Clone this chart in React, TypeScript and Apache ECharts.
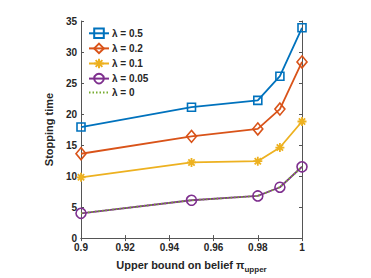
import React, { useEffect, useRef } from "react";
import * as echarts from "echarts";

const xValues = [0.9, 0.95, 0.98, 0.99, 1.0];
const lambda05 = [17.9, 21.1, 22.2, 26.1, 33.9];
const lambda02 = [13.6, 16.4, 17.6, 20.8, 28.4];
const lambda01 = [9.8, 12.2, 12.4, 14.6, 18.8];
const lambda005 = [4.0, 6.1, 6.8, 8.2, 11.5];
const lambda0 = [4.0, 6.1, 6.8, 8.2, 11.5];
const seriesNames = ["λ = 0.5", "λ = 0.2", "λ = 0.1", "λ = 0.05", "λ = 0"];

const colors = ["#0072BD", "#D95319", "#EDB120", "#7E2F8E", "#77AC30"];
const asterisk = "path://M0,-1L0,1M-1,0L1,0M-0.7,-0.7L0.7,0.7M-0.7,0.7L0.7,-0.7";
const textColor = "#262626";
const axisColor = "#555";

function pairs(ys: number[]) {
  return xValues.map((x, i) => [x, ys[i]]);
}

export default function App() {
  const ref = useRef<HTMLDivElement>(null);
  useEffect(() => {
    if (!ref.current) return;
    const chart = echarts.init(ref.current, null, { renderer: "svg" });
    const lineW = 1.8;
    const mk = (name: string, data: number[], color: string, symbol: string, size: any, extra: any = {}) => ({
      type: "line",
      name,
      data: pairs(data),
      symbol,
      symbolSize: size,
      showAllSymbol: true,
      lineStyle: { color, width: lineW },
      itemStyle: { color: "none", borderColor: color, borderWidth: 1.6 },
      emphasis: { disabled: true },
      ...extra,
    });
    chart.setOption({
      animation: false,
      grid: { left: 81, right: 69, top: 21, bottom: 38 },
      legend: {
        orient: "vertical",
        left: 88,
        top: 26,
        padding: 0,
        itemGap: 0.5,
        itemWidth: 20,
        itemHeight: 12,
        data: seriesNames.map((n, i) =>
          i === 4
            ? { name: n, itemStyle: { color: "rgba(0,0,0,0)", borderColor: "rgba(0,0,0,0)", borderWidth: 0 } }
            : { name: n }
        ),
        textStyle: { fontFamily: "Liberation Sans", fontWeight: "bold", fontSize: 10, color: textColor, lineHeight: 12, padding: [0, 0, 0, -2] },
      },
      xAxis: [
        {
          type: "value",
          min: 0.9,
          max: 1.0,
          interval: 0.02,
          name: "{a|Upper bound on belief π}{sub|upper}",
          nameLocation: "middle",
          nameGap: 15,
          nameTextStyle: {
            rich: {
              a: { fontFamily: "Liberation Sans", fontWeight: "bold", fontSize: 11, color: textColor, lineHeight: 14, verticalAlign: "top" },
              sub: { fontFamily: "Liberation Sans", fontWeight: "bold", fontSize: 8, color: textColor, lineHeight: 10, verticalAlign: "bottom", padding: [8, 0, 0, 0] },
            },
          },
          axisLine: { show: true, lineStyle: { color: axisColor, width: 1 } },
          axisTick: { show: true, inside: true, length: 3, lineStyle: { color: axisColor } },
          splitLine: { show: false },
          axisLabel: {
            fontFamily: "Liberation Sans",
            fontWeight: "bold",
            fontSize: 10,
            color: textColor,
            margin: 4,
            formatter: (v: number) => String(+v.toFixed(2)),
          },
        },
        {
          type: "value",
          position: "top",
          min: 0.9,
          max: 1.0,
          interval: 0.02,
          axisLine: { show: true, lineStyle: { color: axisColor, width: 1 } },
          axisTick: { show: true, inside: true, length: 3, lineStyle: { color: axisColor } },
          axisLabel: { show: false },
          splitLine: { show: false },
        },
      ],
      yAxis: [
        {
          type: "value",
          min: 0,
          max: 35,
          interval: 5,
          name: "Stopping time",
          nameLocation: "middle",
          nameGap: 20,
          nameTextStyle: { fontFamily: "Liberation Sans", fontWeight: "bold", fontSize: 11, color: textColor },
          axisLine: { show: true, lineStyle: { color: axisColor, width: 1 } },
          axisTick: { show: true, inside: true, length: 3, lineStyle: { color: axisColor } },
          splitLine: { show: false },
          axisLabel: { fontFamily: "Liberation Sans", fontWeight: "bold", fontSize: 10, color: textColor, margin: 4 },
        },
        {
          type: "value",
          position: "right",
          min: 0,
          max: 35,
          interval: 5,
          axisLine: { show: true, lineStyle: { color: axisColor, width: 1 } },
          axisTick: { show: true, inside: true, length: 3, lineStyle: { color: axisColor } },
          axisLabel: { show: false },
          splitLine: { show: false },
        },
      ],
      series: [
        mk(seriesNames[0], lambda05, colors[0], "rect", 8),
        mk(seriesNames[1], lambda02, colors[1], "diamond", [10, 12]),
        mk(seriesNames[2], lambda01, colors[2], asterisk, 9, { itemStyle: { color: "none", borderColor: colors[2], borderWidth: 1.8 } }),
        mk(seriesNames[3], lambda005, colors[3], "circle", 10),
        {
          type: "line",
          name: seriesNames[4],
          data: pairs(lambda0),
          symbol: "none",
          lineStyle: { color: colors[4], width: 1.8, type: [1.5, 2] },
          itemStyle: { color: colors[4] },
          emphasis: { disabled: true },
        },
      ],
    });
    return () => chart.dispose();
  }, []);
  return <div ref={ref} style={{ position: "fixed", left: 0, top: 0, width: 371, height: 278, background: "#fff" }} />;
}
